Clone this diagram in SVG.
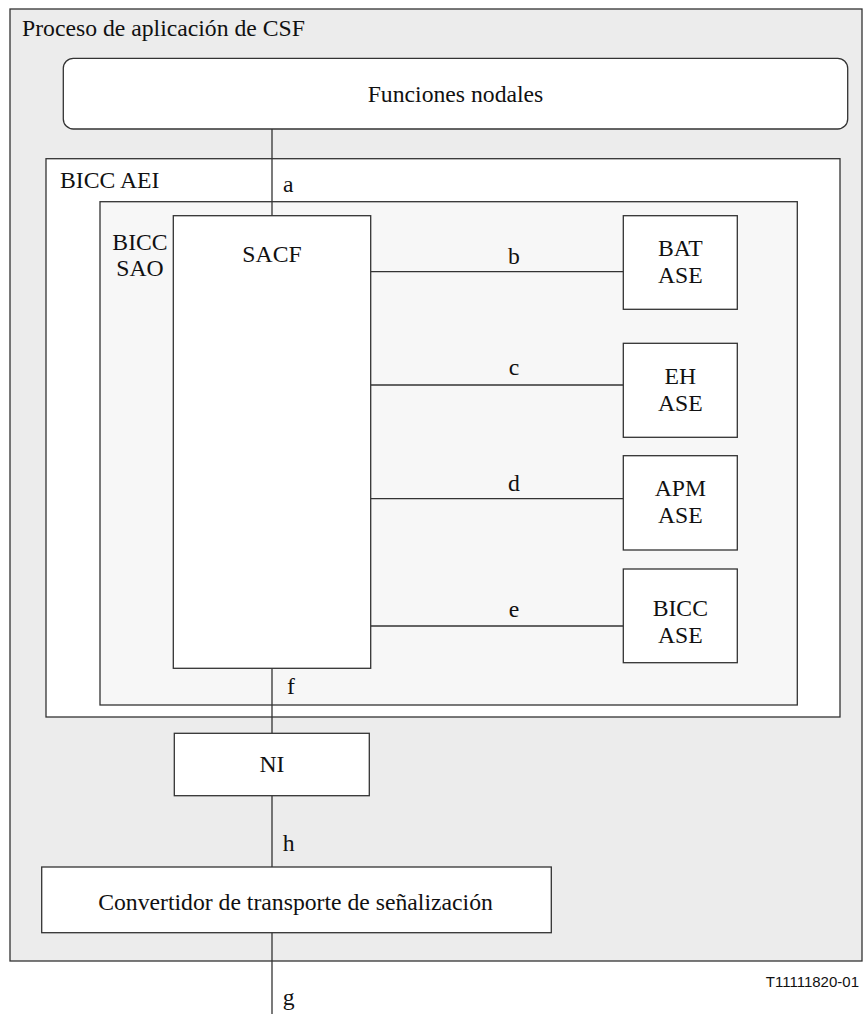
<svg xmlns="http://www.w3.org/2000/svg" width="864" height="1014" viewBox="0 0 864 1014">
<style>
.box{stroke:#333;stroke-width:1.3;}
.w{fill:#ffffff;}
.t{font-size:23.7px;fill:#111;}
.c{text-anchor:middle;}
.ln{stroke:#333;stroke-width:1.3;fill:none;}
.small{font-size:15px;fill:#111;}
</style>
<rect width="864" height="1014" fill="#ffffff"/>
<g font-family="Times New Roman, Liberation Serif, Tinos, serif">
<g id="csf">
<rect class="box" x="10" y="9" width="852" height="952" fill="#ececec"/>
<text class="t" x="22" y="36">Proceso de aplicación de CSF</text>
</g>
<g id="aei">
<rect class="box w" x="46" y="158.7" width="794" height="558.3"/>
<text class="t" x="60" y="188.3">BICC AEI</text>
</g>
<g id="sao">
<rect class="box" x="100" y="201.7" width="697.3" height="503.3" fill="#f7f7f7"/>
<text class="t c" x="140" y="250">BICC</text>
<text class="t c" x="140" y="276">SAO</text>
</g>
<g id="connectors">
<line class="ln" x1="272" y1="129" x2="272" y2="215.7"/>
<line class="ln" x1="272" y1="668.3" x2="272" y2="733.3"/>
<line class="ln" x1="272" y1="795.7" x2="272" y2="867"/>
<line class="ln" x1="272" y1="932.7" x2="272" y2="1014"/>
<line class="ln" x1="370.7" y1="271.7" x2="623.3" y2="271.7"/>
<line class="ln" x1="370.7" y1="385" x2="623.3" y2="385"/>
<line class="ln" x1="370.7" y1="498.7" x2="623.3" y2="498.7"/>
<line class="ln" x1="370.7" y1="626" x2="623.3" y2="626"/>
<text class="t" x="283" y="191.7">a</text>
<text class="t c" x="514" y="264">b</text>
<text class="t c" x="514" y="375">c</text>
<text class="t c" x="514" y="491">d</text>
<text class="t c" x="514" y="616.7">e</text>
<text class="t" x="287" y="694">f</text>
<text class="t" x="282.7" y="850.7">h</text>
<text class="t" x="282.7" y="1005">g</text>
</g>
<g id="funciones">
<rect class="box w" x="63.3" y="58.3" width="784.4" height="70.7" rx="10" ry="10"/>
<text class="t c" x="455.5" y="101.7">Funciones nodales</text>
</g>
<g id="sacf">
<rect class="box w" x="173.3" y="215.7" width="197.4" height="452.6"/>
<text class="t c" x="272" y="261.7">SACF</text>
</g>
<g id="bat">
<rect class="box w" x="623.3" y="215.7" width="114" height="93.6"/>
<text class="t c" x="680.3" y="256">BAT</text>
<text class="t c" x="680.3" y="283.3">ASE</text>
</g>
<g id="eh">
<rect class="box w" x="623.3" y="343.3" width="114" height="94"/>
<text class="t c" x="680.3" y="384.3">EH</text>
<text class="t c" x="680.3" y="411">ASE</text>
</g>
<g id="apm">
<rect class="box w" x="623.3" y="455.7" width="114" height="94.3"/>
<text class="t c" x="680.3" y="496">APM</text>
<text class="t c" x="680.3" y="523.3">ASE</text>
</g>
<g id="biccase">
<rect class="box w" x="623.3" y="569" width="114" height="93.7"/>
<text class="t c" x="680.3" y="616">BICC</text>
<text class="t c" x="680.3" y="643.3">ASE</text>
</g>
<g id="ni">
<rect class="box w" x="174.3" y="733.3" width="195" height="62.4"/>
<text class="t c" x="272" y="771.7">NI</text>
</g>
<g id="convertidor">
<rect class="box w" x="41.7" y="867" width="509.6" height="65.7"/>
<text class="t c" x="295.5" y="910">Convertidor de transporte de señalización</text>
</g>
</g>
<text class="small" x="859" y="987" text-anchor="end" font-family="Liberation Sans, Arial, sans-serif">T11111820-01</text>
</svg>
